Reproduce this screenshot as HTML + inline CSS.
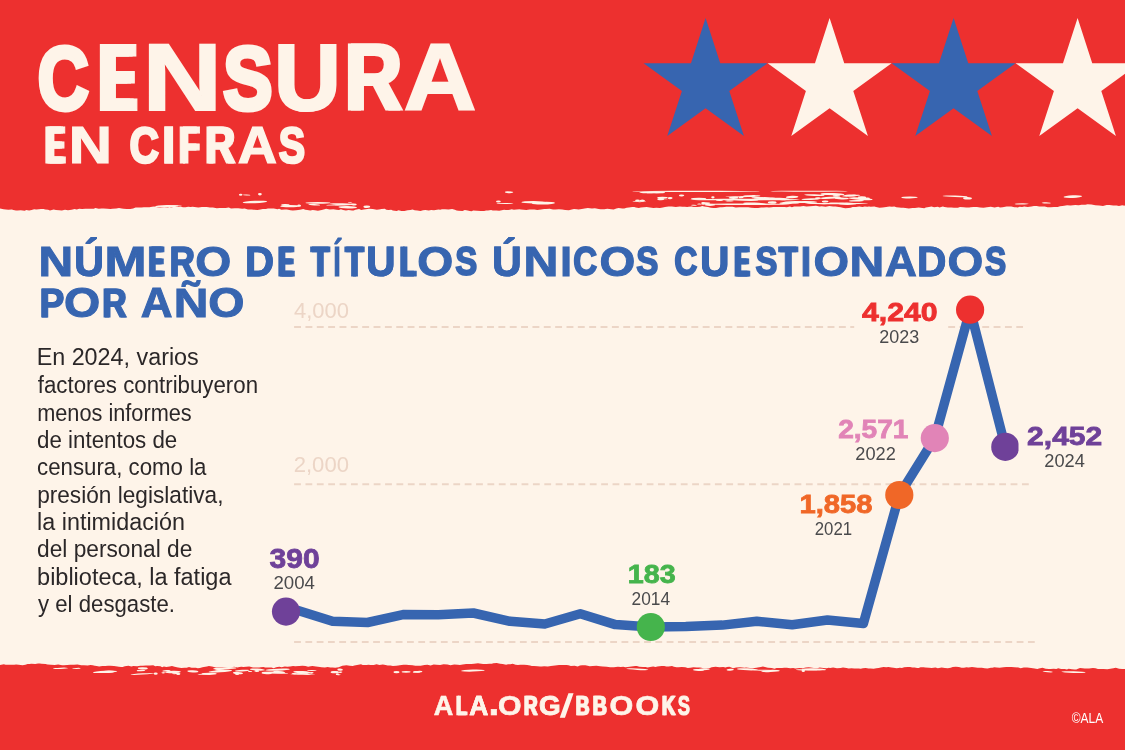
<!DOCTYPE html>
<html lang="es"><head><meta charset="utf-8"><title>Censura en cifras</title>
<style>html,body{margin:0;padding:0;background:#FEF4E9}body{width:1125px;height:750px;overflow:hidden}svg{display:block;will-change:transform}text{font-family:"Liberation Sans",sans-serif}</style></head><body>
<svg width="1125" height="750" viewBox="0 0 1125 750">
<rect width="1125" height="750" fill="#FEF4E9"/>
<path fill="#ED302F" d="M0 0H1125V204.6L1125.0 204.6L1124.8 205.7L1122.1 205.3L1119.0 205.9L1116.6 205.5L1113.3 205.4L1109.4 205.1L1106.6 205.1L1103.0 206.0L1099.2 205.6L1095.3 205.3L1091.5 204.5L1087.6 204.3L1085.3 204.7L1081.5 204.8L1078.7 205.2L1075.3 205.1L1072.9 205.2L1070.6 205.5L1067.1 205.2L1064.1 205.8L1062.4 206.1L1060.0 206.2L1057.7 207.1L1054.0 207.0L1050.8 207.3L1047.5 207.2L1044.8 206.6L1043.1 206.5L1039.2 206.5L1036.8 206.0L1033.9 206.1L1031.4 206.5L1027.7 206.9L1024.3 206.4L1022.0 207.0L1019.5 206.7L1017.8 207.5L1016.1 207.2L1014.5 207.2L1011.2 206.6L1009.4 206.6L1006.6 206.5L1002.6 207.2L1000.0 207.4L998.2 206.8L994.6 207.5L990.8 206.8L986.9 207.3L983.5 207.7L980.1 207.4L977.0 206.9L973.3 206.9L970.7 207.3L969.1 207.5L966.2 207.5L963.8 207.3L960.0 207.1L957.9 207.8L953.9 207.7L951.5 207.6L947.8 207.4L944.5 207.0L942.9 206.6L941.1 207.1L939.5 207.4L937.9 206.7L934.1 207.3L931.4 206.5L929.0 206.9L925.8 207.5L924.3 208.3L922.4 207.9L918.7 207.6L914.9 207.9L912.5 207.9L908.8 208.5L907.2 208.3L903.4 207.7L901.1 207.7L899.1 207.4L896.4 207.2L894.3 206.5L891.9 206.7L889.4 206.4L886.2 206.9L882.6 207.4L879.5 207.8L876.0 207.0L874.4 206.5L870.7 206.8L869.0 206.4L867.3 206.7L864.8 206.5L862.5 207.1L859.2 206.6L855.9 206.9L852.6 207.0L850.7 207.7L848.6 208.0L845.3 208.2L842.6 207.8L840.7 207.2L838.8 207.1L835.4 206.6L833.1 206.6L829.3 206.1L825.7 206.8L821.8 206.3L819.5 206.6L816.0 205.8L813.1 206.1L810.1 206.3L806.5 206.6L803.4 206.1L800.1 206.5L797.6 206.5L794.1 206.4L791.9 207.2L789.9 206.6L786.9 207.2L784.4 207.1L780.5 206.9L778.9 207.0L776.5 206.9L773.2 207.1L771.6 207.3L768.9 207.6L767.0 207.3L763.3 207.5L761.1 207.4L758.1 208.0L754.7 207.9L751.2 207.7L748.2 207.3L745.6 207.3L742.5 207.2L739.2 207.2L735.8 207.4L732.5 206.8L728.8 206.7L726.2 206.8L724.7 207.0L721.9 207.3L720.0 207.3L716.0 207.9L713.5 207.9L710.8 207.7L708.0 207.1L704.3 206.5L702.2 206.1L700.1 206.8L697.0 207.0L693.8 207.1L691.3 206.6L688.7 206.8L687.2 206.9L684.8 206.8L682.5 206.7L679.8 206.5L675.8 207.0L671.9 206.6L668.6 206.4L665.0 206.9L662.8 207.6L659.9 208.0L656.3 207.8L653.4 208.1L649.9 207.5L646.7 207.0L643.7 207.2L640.8 207.6L638.8 208.0L635.8 207.4L634.3 207.0L632.3 206.9L628.9 207.5L626.7 207.8L624.2 208.5L622.4 208.5L618.6 207.9L616.3 208.5L613.7 209.4L611.2 209.3L607.4 208.8L604.2 209.2L600.6 209.2L598.7 208.9L594.9 208.2L591.9 208.5L587.9 207.9L584.6 208.5L581.8 209.0L578.5 209.4L576.9 209.2L574.0 208.9L571.8 209.4L568.9 210.3L565.2 209.9L562.2 209.6L558.9 209.3L555.3 209.6L553.0 209.4L549.6 208.7L545.9 209.1L544.2 208.9L541.1 209.6L537.3 210.0L534.4 209.4L532.4 209.5L529.6 209.5L526.3 209.9L523.7 209.7L520.9 209.4L519.4 209.3L516.4 209.6L513.9 209.8L511.7 209.2L509.9 209.7L508.2 210.0L505.7 210.0L504.1 209.8L501.8 210.3L499.2 210.7L496.3 210.4L492.8 210.6L491.1 210.0L488.0 210.6L486.1 210.5L484.1 210.9L480.8 211.0L477.0 210.8L473.2 210.5L471.6 211.2L469.8 210.9L467.6 210.6L464.8 210.1L462.5 210.9L458.5 210.7L456.6 210.4L454.9 209.8L452.1 209.1L448.5 209.4L445.0 209.2L441.9 209.2L440.2 209.7L438.5 209.5L437.0 209.8L434.0 210.2L431.1 210.1L428.9 210.5L425.3 210.0L423.0 210.3L420.5 210.9L417.4 210.4L414.7 210.2L412.5 209.4L410.4 209.9L407.6 210.3L404.4 210.9L401.6 210.9L398.5 210.3L396.7 210.9L392.8 210.4L391.2 209.7L388.5 210.0L386.3 209.8L384.8 208.7L381.6 209.1L378.9 209.5L376.7 209.8L372.8 209.0L369.0 208.8L365.7 209.2L363.7 209.4L361.2 210.0L359.1 209.1L355.4 209.7L353.6 210.4L352.1 210.4L348.6 210.0L346.0 210.5L343.1 210.0L340.9 209.3L338.9 209.9L336.4 209.8L333.4 209.3L329.8 209.5L326.1 208.8L324.5 209.3L321.7 209.9L317.9 210.8L314.9 210.3L312.7 209.9L310.3 210.4L307.3 210.1L305.3 209.8L303.3 209.0L300.0 209.7L296.1 210.2L292.8 210.5L290.5 210.2L286.9 209.6L284.8 209.4L281.4 209.7L279.1 208.8L277.5 209.2L273.8 208.4L271.1 208.4L267.9 208.4L265.9 208.9L262.8 208.9L260.4 209.4L257.6 209.9L253.7 209.8L251.8 209.4L247.9 209.5L246.3 209.1L244.7 208.4L242.2 208.7L238.3 208.2L234.7 208.3L231.0 208.5L228.8 207.5L225.7 207.9L222.8 208.0L219.6 207.9L216.8 208.2L212.9 207.4L210.0 207.6L206.8 206.9L203.5 207.0L201.9 207.1L198.4 207.6L196.4 207.2L192.6 206.8L190.6 207.0L188.2 206.8L185.5 207.2L182.9 207.3L180.7 206.6L177.9 206.8L176.2 207.0L173.1 207.0L171.0 207.5L169.5 207.0L167.8 207.7L164.2 207.3L160.6 207.7L157.1 207.2L154.2 206.4L152.1 206.7L149.4 207.3L146.4 207.3L144.0 207.2L141.3 207.5L139.3 207.6L135.6 207.6L133.1 208.6L130.3 209.0L126.9 209.0L123.4 208.8L121.8 208.6L119.0 208.1L116.3 208.6L112.4 208.8L110.4 209.1L107.5 208.8L103.6 208.5L101.6 208.6L98.7 208.8L95.4 208.0L93.8 208.7L91.3 208.8L87.9 208.8L85.3 208.8L82.1 209.1L79.2 208.8L76.7 209.4L74.6 208.9L71.6 209.8L68.0 210.2L65.0 209.8L61.9 210.5L59.3 210.3L56.0 209.9L53.7 209.6L50.0 210.5L48.1 209.8L45.2 209.6L43.6 208.9L41.0 209.0L38.9 209.2L36.2 209.4L34.1 209.3L31.6 210.0L29.1 210.6L26.3 209.9L24.7 210.7L20.8 210.2L17.5 210.5L16.0 210.6L13.4 210.1L11.9 209.4L8.4 209.8L5.8 209.4L3.6 209.3L0.0 208.5Z"/>
<path fill="#ED302F" d="M0 750V665.0L0.0 665.0L3.9 664.2L5.6 664.7L8.9 664.8L11.2 664.8L14.2 664.7L16.1 664.5L18.6 664.7L22.6 665.2L25.4 664.8L27.6 663.9L29.2 664.0L31.5 663.8L35.2 663.9L38.1 663.6L39.7 663.5L41.5 663.7L45.5 664.0L47.5 664.5L50.9 664.7L54.7 664.9L58.2 664.6L62.1 665.2L64.0 665.3L67.3 665.0L70.2 664.8L74.0 664.8L77.5 664.6L81.3 665.2L83.9 665.2L87.7 665.4L90.4 664.9L92.7 665.2L94.7 665.7L96.8 666.1L99.1 666.4L102.4 666.1L105.2 666.1L108.1 665.7L110.1 665.7L114.0 665.9L115.7 666.3L119.0 666.8L121.0 666.9L122.6 666.9L124.8 666.3L128.5 665.8L131.3 666.5L133.4 666.1L137.1 666.2L140.4 665.8L142.8 665.7L146.0 665.5L149.9 665.4L153.2 665.2L155.3 666.2L157.2 666.0L160.5 666.2L162.1 667.2L163.9 666.5L166.3 666.9L169.7 666.4L172.0 666.0L174.6 666.8L178.0 667.5L181.4 667.9L184.6 667.7L186.7 667.8L189.0 667.1L191.6 667.7L193.4 667.7L195.9 667.7L197.8 668.2L199.9 668.1L202.5 667.3L205.3 666.8L207.0 666.4L208.9 666.1L212.0 666.6L215.9 667.5L219.9 667.2L222.5 667.0L225.5 667.3L229.0 667.7L231.2 667.5L234.0 666.8L235.6 666.9L237.3 667.4L239.4 666.9L241.4 666.7L243.4 666.9L246.1 666.8L249.2 666.6L253.0 667.5L256.3 667.4L259.1 667.5L260.7 667.3L263.5 666.9L265.2 667.5L267.7 667.4L271.5 667.6L273.7 668.2L276.1 667.2L279.3 666.7L281.6 667.3L284.8 666.6L287.4 666.7L290.1 666.4L293.1 666.1L295.3 666.2L299.1 665.9L302.5 665.8L305.5 666.1L308.1 666.7L310.6 666.3L312.4 666.0L316.0 666.5L319.9 666.9L321.5 667.2L324.9 667.4L327.7 667.1L330.3 667.5L332.5 667.4L335.2 667.8L338.7 667.3L342.3 665.8L344.4 665.4L346.5 665.2L349.7 665.7L352.7 665.9L354.4 665.4L358.4 664.8L361.0 664.2L362.7 665.0L366.6 665.1L368.5 664.8L370.5 665.1L373.8 664.9L376.6 664.3L379.4 665.1L382.8 664.5L385.6 664.9L387.7 665.4L390.4 665.5L392.9 666.0L396.4 665.7L398.2 665.4L399.8 665.3L403.5 664.7L406.3 664.7L408.8 665.0L412.6 665.2L415.3 665.7L417.6 665.7L420.8 665.8L424.4 665.1L427.5 664.8L430.6 665.4L433.7 664.5L436.4 664.8L440.1 665.0L443.6 664.2L447.5 664.6L450.5 665.2L454.2 664.4L457.8 664.8L459.8 665.0L462.7 664.4L466.2 663.9L469.3 663.9L471.4 664.1L474.1 663.7L478.0 663.3L479.5 663.5L483.1 663.9L486.5 663.9L489.7 663.7L491.8 663.8L493.4 663.3L496.8 663.0L500.1 663.7L502.7 664.1L506.1 664.8L508.0 664.2L510.4 664.3L512.7 663.7L515.6 664.7L518.0 664.9L520.4 664.8L524.1 664.7L527.2 664.9L530.1 665.6L531.8 666.0L534.0 666.1L537.5 666.2L540.0 666.6L541.7 666.5L544.2 666.3L547.8 666.5L550.9 666.0L553.0 665.8L555.1 665.5L559.0 665.0L562.5 665.0L564.9 665.0L566.6 665.1L568.5 665.2L570.8 665.9L574.6 665.8L577.7 666.4L580.0 665.6L582.1 665.2L585.3 665.2L587.7 665.8L589.7 666.2L592.8 666.0L596.4 665.7L600.1 666.3L602.8 666.5L606.7 666.8L610.1 667.2L613.9 667.3L617.9 666.8L620.9 667.0L623.3 666.7L625.3 667.3L627.7 667.0L631.4 666.5L635.3 666.0L636.9 666.0L639.3 666.8L643.0 667.1L645.6 667.1L647.7 667.4L650.1 666.9L653.2 666.4L655.5 667.1L657.3 666.6L659.3 666.3L661.8 666.1L664.2 666.0L666.3 666.5L668.6 666.4L672.0 666.0L673.9 666.8L676.5 667.3L678.3 667.3L681.9 667.0L685.3 667.2L687.8 667.9L690.3 667.7L693.4 667.3L696.9 667.5L699.9 667.5L703.9 668.2L707.5 667.9L710.0 667.9L711.6 667.2L715.6 666.8L719.5 667.3L723.2 666.9L725.5 667.6L727.0 667.1L729.4 666.8L731.3 667.4L733.0 668.2L736.1 667.5L739.9 667.3L742.6 667.6L744.4 667.7L746.1 667.4L749.9 668.0L752.7 668.3L756.4 667.7L759.1 667.3L760.9 666.9L762.9 666.6L765.0 666.9L768.0 667.7L771.8 668.1L774.5 668.7L776.5 667.9L780.0 668.1L782.0 667.9L784.3 667.8L786.8 667.7L790.3 668.3L793.2 668.1L795.4 668.5L799.4 668.0L802.7 668.2L805.8 667.5L808.7 667.2L810.7 667.6L813.8 667.9L817.2 668.2L819.8 667.5L823.3 668.1L826.9 668.2L828.5 667.7L830.2 668.0L833.1 667.5L837.0 668.3L840.7 668.1L843.0 667.6L846.5 668.0L848.7 668.5L851.6 668.2L854.2 668.4L856.8 668.4L858.6 668.5L860.8 668.8L862.8 668.3L865.7 668.0L868.5 668.5L870.5 668.6L873.7 668.7L876.3 668.3L878.7 668.1L880.8 667.5L883.5 667.1L886.2 667.3L888.5 666.9L891.5 667.6L893.5 667.7L896.7 668.2L899.9 667.7L901.9 668.1L904.2 667.3L907.8 666.9L910.1 666.9L912.3 667.4L914.6 667.4L917.2 667.9L918.7 667.9L920.5 667.3L923.6 667.2L925.2 667.5L929.0 667.7L931.7 668.1L935.5 667.5L937.8 668.2L941.6 667.6L944.9 668.1L947.8 668.3L950.7 667.7L952.7 667.1L955.8 666.8L958.9 666.9L961.5 667.8L964.0 667.7L966.4 667.3L968.5 667.5L972.0 667.0L975.9 667.5L977.5 667.8L980.0 667.8L981.8 667.8L984.6 668.2L987.5 668.4L990.9 667.8L992.4 667.8L994.3 667.3L996.6 667.5L999.6 667.8L1003.5 667.3L1006.3 666.9L1009.5 667.1L1011.4 667.1L1014.5 667.3L1018.4 667.4L1020.7 668.2L1023.8 667.6L1027.2 667.6L1031.1 667.9L1034.6 668.6L1037.4 669.1L1038.9 668.6L1042.5 667.8L1045.7 668.7L1049.0 669.1L1050.7 668.9L1053.7 668.7L1056.3 669.0L1058.2 668.2L1061.1 668.9L1064.7 669.0L1067.0 669.4L1068.6 668.8L1072.0 669.3L1074.5 669.6L1076.3 669.5L1078.0 668.8L1080.0 668.1L1082.5 668.2L1084.7 668.6L1086.3 668.6L1089.1 668.5L1092.9 668.1L1095.5 668.2L1097.9 669.1L1100.8 669.0L1103.4 668.9L1107.3 669.3L1110.4 668.7L1113.4 668.3L1115.8 667.8L1119.1 668.8L1122.1 669.0L1124.3 668.9L1125.0 669.0V750Z"/>
<g fill="#FEF4E9">
<ellipse cx="285.4" cy="204.9" rx="4.2" ry="0.9" transform="rotate(1.0 285.4 204.9)"/>
<ellipse cx="350.1" cy="202.4" rx="2.3" ry="0.4" transform="rotate(-2.1 350.1 202.4)"/>
<ellipse cx="342.7" cy="204.1" rx="12.9" ry="0.8" transform="rotate(1.1 342.7 204.1)"/>
<ellipse cx="353.6" cy="204.4" rx="3.2" ry="1.0" transform="rotate(1.9 353.6 204.4)"/>
<ellipse cx="335.4" cy="204.9" rx="9.2" ry="0.5" transform="rotate(-1.6 335.4 204.9)"/>
<ellipse cx="299.2" cy="205.6" rx="1.9" ry="1.2" transform="rotate(3.0 299.2 205.6)"/>
<ellipse cx="289.9" cy="206.1" rx="9.7" ry="1.2" transform="rotate(-0.4 289.9 206.1)"/>
<ellipse cx="254.9" cy="202.0" rx="12.3" ry="1.2" transform="rotate(-2.3 254.9 202.0)"/>
<ellipse cx="318.0" cy="202.9" rx="12.6" ry="0.8" transform="rotate(0.1 318.0 202.9)"/>
<ellipse cx="314.2" cy="204.8" rx="5.9" ry="0.7" transform="rotate(3.2 314.2 204.8)"/>
<ellipse cx="347.7" cy="207.2" rx="9.3" ry="1.2" transform="rotate(1.4 347.7 207.2)"/>
<ellipse cx="366.8" cy="206.7" rx="3.4" ry="1.2" transform="rotate(0.6 366.8 206.7)"/>
<ellipse cx="344.3" cy="204.8" rx="9.7" ry="0.6" transform="rotate(-1.7 344.3 204.8)"/>
<ellipse cx="259.9" cy="194.2" rx="1.9" ry="1.2" transform="rotate(2.4 259.9 194.2)"/>
<ellipse cx="246.6" cy="195.0" rx="3.8" ry="0.5" transform="rotate(3.0 246.6 195.0)"/>
<ellipse cx="240.7" cy="194.7" rx="1.8" ry="1.0" transform="rotate(-1.4 240.7 194.7)"/>
<ellipse cx="543.4" cy="203.2" rx="11.6" ry="1.3" transform="rotate(-1.5 543.4 203.2)"/>
<ellipse cx="498.4" cy="201.5" rx="2.4" ry="0.9" transform="rotate(-0.7 498.4 201.5)"/>
<ellipse cx="505.0" cy="203.5" rx="8.5" ry="0.5" transform="rotate(-1.5 505.0 203.5)"/>
<ellipse cx="533.8" cy="202.2" rx="12.5" ry="1.2" transform="rotate(0.2 533.8 202.2)"/>
<ellipse cx="508.5" cy="192.3" rx="3.6" ry="0.9" transform="rotate(3.5 508.5 192.3)"/>
<ellipse cx="510.1" cy="192.3" rx="3.2" ry="0.8" transform="rotate(-1.6 510.1 192.3)"/>
<ellipse cx="652.1" cy="192.4" rx="12.7" ry="0.9" transform="rotate(-0.7 652.1 192.4)"/>
<ellipse cx="654.7" cy="192.7" rx="8.2" ry="0.4" transform="rotate(-3.5 654.7 192.7)"/>
<ellipse cx="656.5" cy="192.4" rx="8.7" ry="0.8" transform="rotate(1.7 656.5 192.4)"/>
<ellipse cx="636.9" cy="201.6" rx="4.4" ry="0.4" transform="rotate(3.7 636.9 201.6)"/>
<ellipse cx="642.2" cy="200.6" rx="2.5" ry="0.8" transform="rotate(-1.1 642.2 200.6)"/>
<ellipse cx="642.2" cy="200.5" rx="2.7" ry="0.7" transform="rotate(-1.0 642.2 200.5)"/>
<ellipse cx="641.6" cy="201.7" rx="4.5" ry="0.4" transform="rotate(-1.5 641.6 201.7)"/>
<ellipse cx="637.5" cy="200.5" rx="2.4" ry="1.1" transform="rotate(-0.5 637.5 200.5)"/>
<ellipse cx="663.1" cy="198.8" rx="4.6" ry="0.5" transform="rotate(2.7 663.1 198.8)"/>
<ellipse cx="660.7" cy="199.1" rx="3.5" ry="1.2" transform="rotate(1.2 660.7 199.1)"/>
<ellipse cx="662.5" cy="197.6" rx="5.5" ry="0.8" transform="rotate(0.2 662.5 197.6)"/>
<ellipse cx="670.2" cy="198.2" rx="2.4" ry="1.1" transform="rotate(-1.8 670.2 198.2)"/>
<ellipse cx="830.2" cy="197.8" rx="10.8" ry="1.0" transform="rotate(-3.0 830.2 197.8)"/>
<ellipse cx="733.6" cy="197.8" rx="4.9" ry="1.1" transform="rotate(-0.7 733.6 197.8)"/>
<ellipse cx="854.0" cy="195.6" rx="6.3" ry="0.8" transform="rotate(-4.0 854.0 195.6)"/>
<ellipse cx="860.4" cy="198.8" rx="12.3" ry="1.2" transform="rotate(3.6 860.4 198.8)"/>
<ellipse cx="818.9" cy="203.5" rx="12.2" ry="0.6" transform="rotate(1.3 818.9 203.5)"/>
<ellipse cx="747.6" cy="196.3" rx="7.5" ry="0.7" transform="rotate(-3.5 747.6 196.3)"/>
<ellipse cx="832.5" cy="194.2" rx="8.3" ry="0.7" transform="rotate(3.2 832.5 194.2)"/>
<ellipse cx="847.1" cy="203.7" rx="9.5" ry="1.2" transform="rotate(0.6 847.1 203.7)"/>
<ellipse cx="712.9" cy="197.3" rx="1.7" ry="1.1" transform="rotate(1.3 712.9 197.3)"/>
<ellipse cx="856.4" cy="200.8" rx="7.5" ry="0.8" transform="rotate(-1.3 856.4 200.8)"/>
<ellipse cx="772.2" cy="202.5" rx="4.4" ry="1.2" transform="rotate(-1.2 772.2 202.5)"/>
<ellipse cx="836.5" cy="195.8" rx="3.8" ry="0.9" transform="rotate(2.3 836.5 195.8)"/>
<ellipse cx="832.4" cy="194.2" rx="12.1" ry="1.1" transform="rotate(1.0 832.4 194.2)"/>
<ellipse cx="736.7" cy="196.7" rx="11.4" ry="0.4" transform="rotate(0.2 736.7 196.7)"/>
<ellipse cx="827.5" cy="193.8" rx="6.4" ry="0.8" transform="rotate(-3.6 827.5 193.8)"/>
<ellipse cx="694.0" cy="205.2" rx="3.0" ry="0.5" transform="rotate(2.8 694.0 205.2)"/>
<ellipse cx="741.1" cy="197.4" rx="2.5" ry="0.9" transform="rotate(-1.2 741.1 197.4)"/>
<ellipse cx="751.6" cy="196.1" rx="8.9" ry="0.9" transform="rotate(-1.4 751.6 196.1)"/>
<ellipse cx="817.8" cy="198.2" rx="2.9" ry="0.9" transform="rotate(-3.4 817.8 198.2)"/>
<ellipse cx="796.3" cy="202.8" rx="3.6" ry="0.7" transform="rotate(-1.0 796.3 202.8)"/>
<ellipse cx="764.5" cy="198.1" rx="10.7" ry="1.0" transform="rotate(-0.0 764.5 198.1)"/>
<ellipse cx="811.0" cy="199.1" rx="9.6" ry="0.8" transform="rotate(-2.0 811.0 199.1)"/>
<ellipse cx="698.7" cy="198.7" rx="7.7" ry="1.0" transform="rotate(-0.6 698.7 198.7)"/>
<ellipse cx="754.6" cy="203.7" rx="11.6" ry="1.2" transform="rotate(2.3 754.6 203.7)"/>
<ellipse cx="705.7" cy="203.1" rx="4.5" ry="0.8" transform="rotate(1.3 705.7 203.1)"/>
<ellipse cx="805.6" cy="202.0" rx="11.7" ry="1.1" transform="rotate(0.5 805.6 202.0)"/>
<ellipse cx="681.6" cy="195.5" rx="2.7" ry="0.9" transform="rotate(2.2 681.6 195.5)"/>
<ellipse cx="699.2" cy="204.1" rx="2.0" ry="0.5" transform="rotate(-2.6 699.2 204.1)"/>
<ellipse cx="703.2" cy="203.2" rx="1.8" ry="1.2" transform="rotate(1.4 703.2 203.2)"/>
<ellipse cx="790.3" cy="202.6" rx="11.1" ry="1.3" transform="rotate(-3.7 790.3 202.6)"/>
<ellipse cx="814.4" cy="195.1" rx="10.3" ry="0.9" transform="rotate(2.0 814.4 195.1)"/>
<ellipse cx="746.2" cy="200.3" rx="12.2" ry="0.5" transform="rotate(2.6 746.2 200.3)"/>
<ellipse cx="729.4" cy="200.9" rx="4.3" ry="0.6" transform="rotate(2.0 729.4 200.9)"/>
<ellipse cx="757.4" cy="197.8" rx="6.0" ry="0.7" transform="rotate(-0.7 757.4 197.8)"/>
<ellipse cx="867.4" cy="198.5" rx="2.5" ry="0.9" transform="rotate(2.0 867.4 198.5)"/>
<ellipse cx="825.2" cy="201.4" rx="3.3" ry="1.0" transform="rotate(0.1 825.2 201.4)"/>
<ellipse cx="849.2" cy="195.6" rx="7.1" ry="1.0" transform="rotate(-3.2 849.2 195.6)"/>
<ellipse cx="779.6" cy="198.9" rx="10.1" ry="1.2" transform="rotate(1.8 779.6 198.9)"/>
<ellipse cx="719.4" cy="200.5" rx="3.6" ry="0.6" transform="rotate(-1.5 719.4 200.5)"/>
<ellipse cx="862.0" cy="197.3" rx="4.2" ry="1.0" transform="rotate(1.6 862.0 197.3)"/>
<ellipse cx="792.1" cy="197.0" rx="6.3" ry="1.2" transform="rotate(-2.3 792.1 197.0)"/>
<ellipse cx="753.8" cy="195.8" rx="1.8" ry="0.8" transform="rotate(-1.1 753.8 195.8)"/>
<ellipse cx="710.0" cy="204.8" rx="5.2" ry="1.1" transform="rotate(-0.2 710.0 204.8)"/>
<ellipse cx="836.8" cy="203.2" rx="8.4" ry="0.8" transform="rotate(0.5 836.8 203.2)"/>
<ellipse cx="841.7" cy="198.4" rx="7.0" ry="1.0" transform="rotate(1.9 841.7 198.4)"/>
<ellipse cx="955.0" cy="196.3" rx="12.5" ry="0.8" transform="rotate(1.7 955.0 196.3)"/>
<ellipse cx="1072.8" cy="196.6" rx="9.3" ry="1.3" transform="rotate(-2.5 1072.8 196.6)"/>
<ellipse cx="1046.2" cy="202.9" rx="4.5" ry="0.6" transform="rotate(3.2 1046.2 202.9)"/>
<ellipse cx="967.5" cy="198.3" rx="4.4" ry="1.2" transform="rotate(1.8 967.5 198.3)"/>
<ellipse cx="1073.5" cy="196.7" rx="2.5" ry="0.5" transform="rotate(-1.1 1073.5 196.7)"/>
<ellipse cx="909.5" cy="197.4" rx="8.2" ry="1.0" transform="rotate(-0.5 909.5 197.4)"/>
<ellipse cx="1021.7" cy="203.9" rx="7.1" ry="0.6" transform="rotate(-0.9 1021.7 203.9)"/>
<ellipse cx="174.1" cy="205.8" rx="7.8" ry="0.5" transform="rotate(-3.1 174.1 205.8)"/>
<ellipse cx="166.7" cy="206.2" rx="11.7" ry="1.2" transform="rotate(-1.0 166.7 206.2)"/>
<ellipse cx="76.5" cy="668.4" rx="4.2" ry="0.5" transform="rotate(-3.5 76.5 668.4)"/>
<ellipse cx="108.4" cy="671.7" rx="6.1" ry="1.2" transform="rotate(-2.2 108.4 671.7)"/>
<ellipse cx="60.6" cy="668.3" rx="7.7" ry="0.6" transform="rotate(-2.3 60.6 668.3)"/>
<ellipse cx="105.1" cy="671.9" rx="12.2" ry="1.1" transform="rotate(-2.5 105.1 671.9)"/>
<ellipse cx="266.7" cy="673.2" rx="5.1" ry="1.0" transform="rotate(3.0 266.7 673.2)"/>
<ellipse cx="256.8" cy="671.0" rx="2.5" ry="0.9" transform="rotate(-2.6 256.8 671.0)"/>
<ellipse cx="301.5" cy="673.6" rx="6.9" ry="0.5" transform="rotate(0.4 301.5 673.6)"/>
<ellipse cx="238.0" cy="673.1" rx="5.0" ry="1.2" transform="rotate(2.8 238.0 673.1)"/>
<ellipse cx="242.3" cy="670.6" rx="7.3" ry="0.8" transform="rotate(-2.7 242.3 670.6)"/>
<ellipse cx="142.8" cy="668.4" rx="5.0" ry="1.1" transform="rotate(1.0 142.8 668.4)"/>
<ellipse cx="219.8" cy="670.0" rx="4.7" ry="0.9" transform="rotate(4.0 219.8 670.0)"/>
<ellipse cx="170.7" cy="671.9" rx="3.7" ry="0.8" transform="rotate(-1.8 170.7 671.9)"/>
<ellipse cx="192.9" cy="671.3" rx="5.6" ry="1.1" transform="rotate(3.2 192.9 671.3)"/>
<ellipse cx="174.9" cy="672.9" rx="2.7" ry="0.5" transform="rotate(0.9 174.9 672.9)"/>
<ellipse cx="166.5" cy="670.7" rx="4.2" ry="0.7" transform="rotate(-3.7 166.5 670.7)"/>
<ellipse cx="302.7" cy="672.3" rx="9.5" ry="1.2" transform="rotate(3.7 302.7 672.3)"/>
<ellipse cx="311.9" cy="672.8" rx="1.7" ry="0.7" transform="rotate(-0.7 311.9 672.8)"/>
<ellipse cx="277.6" cy="669.7" rx="12.3" ry="1.0" transform="rotate(-2.5 277.6 669.7)"/>
<ellipse cx="204.1" cy="674.2" rx="6.6" ry="0.5" transform="rotate(-1.3 204.1 674.2)"/>
<ellipse cx="163.3" cy="673.0" rx="1.6" ry="0.4" transform="rotate(-1.1 163.3 673.0)"/>
<ellipse cx="311.9" cy="670.5" rx="4.8" ry="0.5" transform="rotate(-2.3 311.9 670.5)"/>
<ellipse cx="163.5" cy="672.3" rx="2.2" ry="0.4" transform="rotate(-2.8 163.5 672.3)"/>
<ellipse cx="178.3" cy="674.1" rx="2.0" ry="0.8" transform="rotate(-3.0 178.3 674.1)"/>
<ellipse cx="209.1" cy="673.8" rx="7.6" ry="1.1" transform="rotate(-0.2 209.1 673.8)"/>
<ellipse cx="141.0" cy="670.5" rx="4.3" ry="0.8" transform="rotate(-2.0 141.0 670.5)"/>
<ellipse cx="224.8" cy="668.3" rx="11.7" ry="1.1" transform="rotate(-2.0 224.8 668.3)"/>
<ellipse cx="176.3" cy="673.5" rx="4.3" ry="0.6" transform="rotate(-2.9 176.3 673.5)"/>
<ellipse cx="237.1" cy="673.7" rx="2.1" ry="1.2" transform="rotate(-0.8 237.1 673.7)"/>
<ellipse cx="273.4" cy="672.5" rx="11.9" ry="1.0" transform="rotate(-0.0 273.4 672.5)"/>
<ellipse cx="294.1" cy="673.7" rx="2.6" ry="0.6" transform="rotate(3.4 294.1 673.7)"/>
<ellipse cx="278.7" cy="671.9" rx="5.4" ry="1.0" transform="rotate(2.5 278.7 671.9)"/>
<ellipse cx="257.5" cy="669.6" rx="7.6" ry="1.0" transform="rotate(3.4 257.5 669.6)"/>
<ellipse cx="302.7" cy="674.3" rx="12.5" ry="0.5" transform="rotate(1.3 302.7 674.3)"/>
<ellipse cx="155.7" cy="673.6" rx="2.0" ry="1.2" transform="rotate(1.3 155.7 673.6)"/>
<ellipse cx="250.1" cy="671.5" rx="2.2" ry="0.6" transform="rotate(2.0 250.1 671.5)"/>
<ellipse cx="142.7" cy="673.9" rx="12.2" ry="0.6" transform="rotate(-3.9 142.7 673.9)"/>
<ellipse cx="276.7" cy="673.0" rx="11.6" ry="0.5" transform="rotate(3.0 276.7 673.0)"/>
<ellipse cx="173.0" cy="672.0" rx="7.8" ry="1.2" transform="rotate(-1.4 173.0 672.0)"/>
<ellipse cx="220.3" cy="671.2" rx="11.8" ry="1.1" transform="rotate(-3.8 220.3 671.2)"/>
<ellipse cx="337.4" cy="674.2" rx="1.6" ry="0.9" transform="rotate(0.9 337.4 674.2)"/>
<ellipse cx="340.5" cy="672.2" rx="1.9" ry="0.7" transform="rotate(-3.9 340.5 672.2)"/>
<ellipse cx="334.6" cy="672.2" rx="4.0" ry="1.1" transform="rotate(-1.0 334.6 672.2)"/>
<ellipse cx="335.6" cy="671.9" rx="3.9" ry="0.7" transform="rotate(3.7 335.6 671.9)"/>
<ellipse cx="338.9" cy="674.7" rx="1.8" ry="0.5" transform="rotate(0.1 338.9 674.7)"/>
<ellipse cx="340.1" cy="669.6" rx="2.8" ry="1.2" transform="rotate(3.1 340.1 669.6)"/>
<ellipse cx="416.7" cy="671.8" rx="3.4" ry="0.7" transform="rotate(2.4 416.7 671.8)"/>
<ellipse cx="396.5" cy="672.1" rx="3.1" ry="1.2" transform="rotate(-0.0 396.5 672.1)"/>
<ellipse cx="417.6" cy="671.8" rx="4.8" ry="0.9" transform="rotate(-4.0 417.6 671.8)"/>
<ellipse cx="406.1" cy="671.8" rx="4.5" ry="0.9" transform="rotate(-0.1 406.1 671.8)"/>
<ellipse cx="417.8" cy="671.7" rx="2.2" ry="0.6" transform="rotate(2.1 417.8 671.7)"/>
<ellipse cx="472.9" cy="670.6" rx="11.9" ry="1.0" transform="rotate(-1.5 472.9 670.6)"/>
<ellipse cx="637.3" cy="669.2" rx="11.1" ry="0.8" transform="rotate(2.9 637.3 669.2)"/>
<ellipse cx="747.5" cy="669.3" rx="10.5" ry="1.0" transform="rotate(2.2 747.5 669.3)"/>
<ellipse cx="704.1" cy="669.2" rx="5.7" ry="1.0" transform="rotate(-2.8 704.1 669.2)"/>
<ellipse cx="806.6" cy="669.8" rx="10.8" ry="0.6" transform="rotate(0.6 806.6 669.8)"/>
<ellipse cx="698.5" cy="670.0" rx="5.5" ry="1.0" transform="rotate(3.5 698.5 670.0)"/>
<ellipse cx="730.2" cy="669.7" rx="3.6" ry="1.0" transform="rotate(-3.8 730.2 669.7)"/>
<ellipse cx="803.3" cy="670.8" rx="1.7" ry="1.3" transform="rotate(2.5 803.3 670.8)"/>
<ellipse cx="765.5" cy="670.2" rx="12.5" ry="0.5" transform="rotate(0.6 765.5 670.2)"/>
<ellipse cx="813.8" cy="669.4" rx="12.3" ry="1.1" transform="rotate(1.2 813.8 669.4)"/>
<ellipse cx="770.5" cy="671.0" rx="9.3" ry="1.1" transform="rotate(-1.6 770.5 671.0)"/>
<ellipse cx="1073.5" cy="672.1" rx="12.2" ry="0.8" transform="rotate(1.6 1073.5 672.1)"/>
<ellipse cx="1047.7" cy="671.7" rx="5.1" ry="0.6" transform="rotate(4.0 1047.7 671.7)"/>
<ellipse cx="696.0" cy="191.4" rx="64.0" ry="0.65"/>
<ellipse cx="809.0" cy="191.2" rx="39.0" ry="0.55"/>
<ellipse cx="745.0" cy="199.6" rx="55.0" ry="0.80"/>
<ellipse cx="745.0" cy="204.2" rx="45.0" ry="0.75"/>
<ellipse cx="836.5" cy="203.6" rx="31.5" ry="0.70"/>
</g>
<polygon points="705.60,18.10 720.24,63.15 767.61,63.15 729.29,91.00 743.92,136.05 705.60,108.20 667.28,136.05 681.91,91.00 643.59,63.15 690.96,63.15" fill="#3765B0"/>
<polygon points="829.60,18.10 844.24,63.15 891.61,63.15 853.29,91.00 867.92,136.05 829.60,108.20 791.28,136.05 805.91,91.00 767.59,63.15 814.96,63.15" fill="#FEF4E9"/>
<polygon points="953.60,18.10 968.24,63.15 1015.61,63.15 977.29,91.00 991.92,136.05 953.60,108.20 915.28,136.05 929.91,91.00 891.59,63.15 938.96,63.15" fill="#3765B0"/>
<polygon points="1077.60,18.10 1092.24,63.15 1139.61,63.15 1101.29,91.00 1115.92,136.05 1077.60,108.20 1039.28,136.05 1053.91,91.00 1015.59,63.15 1062.96,63.15" fill="#FEF4E9"/>
<path d="M294.1 326.9H854.2M948.2 326.9H1023" stroke-dasharray="6.9 4.45" stroke="#ECD5C6" stroke-width="2" fill="none"/>
<path d="M294.1 484.3H1028.8" stroke-dasharray="6.8 4.573" stroke="#ECD5C6" stroke-width="2" fill="none"/>
<path d="M294.1 642H1035" stroke-dasharray="6.8 4.49" stroke="#ECD5C6" stroke-width="2" fill="none"/>
<polyline points="297.3,610.2 332.5,621.2 367.5,622.5 403.0,614.6 438.3,614.8 473.3,613.0 510.0,621.3 544.8,624.0 580.3,613.8 615.4,624.6 650.8,627.0 685.8,626.6 722.3,625.1 756.8,621.2 792.2,624.7 827.5,620.0 863.4,623.4 899.3,495.0 934.8,438.1 970.1,309.7 1005.3,446.9" fill="none" stroke="#3765B0" stroke-width="9.5" stroke-linejoin="round" stroke-linecap="butt"/>
<clipPath id="cl"><rect x="980" y="420" width="38.5" height="60"/></clipPath>
<circle cx="286.0" cy="611.6" r="14.1" fill="#6F4199"/>
<circle cx="650.8" cy="627.0" r="14.1" fill="#45B44C"/>
<circle cx="899.3" cy="495.0" r="14.1" fill="#F06727"/>
<circle cx="934.8" cy="438.1" r="14.1" fill="#E184B7"/>
<circle cx="970.1" cy="309.7" r="14.1" fill="#ED302F"/>
<circle cx="1005.3" cy="446.9" r="14.1" fill="#6F4199" clip-path="url(#cl)"/>
<text transform="translate(37.68 108.50) scale(0.7841 1)" font-size="89.86" font-weight="bold" fill="#FEF4E9" stroke="#FEF4E9" stroke-width="5.00" stroke-linejoin="miter" stroke-miterlimit="3">C</text>
<text id="g1" transform="translate(97.01 110.00) scale(0.5463 1)" font-size="94.20" font-weight="bold" fill="#FEF4E9" stroke="#FEF4E9" stroke-width="2.00" stroke-linejoin="miter" stroke-miterlimit="3">E</text>
<use href="#g1" x="3.73"/>
<use href="#g1" x="7.47"/>
<text transform="translate(142.73 110.00) scale(1.1624 1)" font-size="94.20" font-weight="bold" fill="#FEF4E9" stroke="#FEF4E9" stroke-width="2.00" stroke-linejoin="miter" stroke-miterlimit="3">N</text>
<text transform="translate(223.22 108.50) scale(0.8210 1)" font-size="89.86" font-weight="bold" fill="#FEF4E9" stroke="#FEF4E9" stroke-width="5.00" stroke-linejoin="miter" stroke-miterlimit="3">S</text>
<text id="g2" transform="translate(273.79 110.00) scale(0.9743 1)" font-size="94.20" font-weight="bold" fill="#FEF4E9" stroke="#FEF4E9" stroke-width="2.00" stroke-linejoin="miter" stroke-miterlimit="3">U</text>
<use href="#g2" x="1.02"/>
<text id="g3" transform="translate(343.47 110.00) scale(0.8362 1)" font-size="94.20" font-weight="bold" fill="#FEF4E9" stroke="#FEF4E9" stroke-width="2.00" stroke-linejoin="miter" stroke-miterlimit="3">R</text>
<use href="#g3" x="3.10"/>
<text transform="translate(403.69 110.00) scale(1.0662 1)" font-size="94.20" font-weight="bold" fill="#FEF4E9" stroke="#FEF4E9" stroke-width="2.00" stroke-linejoin="miter" stroke-miterlimit="3">A</text>
<text id="g4" transform="translate(44.06 163.30) scale(0.5265 1)" font-size="51.88" font-weight="bold" fill="#FEF4E9" stroke="#FEF4E9" stroke-width="1.20" stroke-linejoin="miter" stroke-miterlimit="3">E</text>
<use href="#g4" x="2.06"/>
<use href="#g4" x="4.13"/>
<text transform="translate(68.81 163.30) scale(1.1532 1)" font-size="51.88" font-weight="bold" fill="#FEF4E9" stroke="#FEF4E9" stroke-width="1.20" stroke-linejoin="miter" stroke-miterlimit="3">N</text>
<text transform="translate(129.47 162.60) scale(0.8175 1)" font-size="49.86" font-weight="bold" fill="#FEF4E9" stroke="#FEF4E9" stroke-width="2.60" stroke-linejoin="miter" stroke-miterlimit="3">C</text>
<text id="g5" transform="translate(161.39 163.30) scale(1.0000 1)" font-size="51.88" font-weight="bold" fill="#FEF4E9" stroke="#FEF4E9" stroke-width="1.20" stroke-linejoin="miter" stroke-miterlimit="3">I</text>
<use href="#g5" x="0.20"/>
<text id="g6" transform="translate(177.98 163.30) scale(0.6157 1)" font-size="51.88" font-weight="bold" fill="#FEF4E9" stroke="#FEF4E9" stroke-width="1.20" stroke-linejoin="miter" stroke-miterlimit="3">F</text>
<use href="#g6" x="3.39"/>
<text id="g7" transform="translate(204.23 163.30) scale(0.7946 1)" font-size="51.88" font-weight="bold" fill="#FEF4E9" stroke="#FEF4E9" stroke-width="1.20" stroke-linejoin="miter" stroke-miterlimit="3">R</text>
<use href="#g7" x="1.90"/>
<text transform="translate(237.71 163.30) scale(1.0487 1)" font-size="51.88" font-weight="bold" fill="#FEF4E9" stroke="#FEF4E9" stroke-width="1.20" stroke-linejoin="miter" stroke-miterlimit="3">A</text>
<text transform="translate(278.81 162.60) scale(0.7925 1)" font-size="49.86" font-weight="bold" fill="#FEF4E9" stroke="#FEF4E9" stroke-width="2.60" stroke-linejoin="miter" stroke-miterlimit="3">S</text>
<text transform="translate(38.52 275.50) scale(1.1460 1)" font-size="41.88" font-weight="bold" fill="#3765B0" stroke="#3765B0" stroke-width="1.00" stroke-linejoin="miter" stroke-miterlimit="3">N</text>
<text id="g8" transform="translate(74.13 275.50) scale(0.9815 1)" font-size="41.88" font-weight="bold" fill="#3765B0" stroke="#3765B0" stroke-width="1.00" stroke-linejoin="miter" stroke-miterlimit="3">Ú</text>
<use href="#g8" x="0.02"/>
<text transform="translate(104.47 275.50) scale(1.2039 1)" font-size="41.88" font-weight="bold" fill="#3765B0" stroke="#3765B0" stroke-width="1.00" stroke-linejoin="miter" stroke-miterlimit="3">M</text>
<text id="g9" transform="translate(147.68 275.50) scale(0.5241 1)" font-size="41.88" font-weight="bold" fill="#3765B0" stroke="#3765B0" stroke-width="1.00" stroke-linejoin="miter" stroke-miterlimit="3">E</text>
<use href="#g9" x="1.54"/>
<use href="#g9" x="3.09"/>
<text id="g10" transform="translate(169.32 275.50) scale(0.8283 1)" font-size="41.88" font-weight="bold" fill="#3765B0" stroke="#3765B0" stroke-width="1.00" stroke-linejoin="miter" stroke-miterlimit="3">R</text>
<use href="#g10" x="1.05"/>
<text transform="translate(195.35 275.50) scale(1.1051 1)" font-size="41.88" font-weight="bold" fill="#3765B0" stroke="#3765B0" stroke-width="1.00" stroke-linejoin="miter" stroke-miterlimit="3">O</text>
<text id="g11" transform="translate(245.00 275.50) scale(0.9550 1)" font-size="41.88" font-weight="bold" fill="#3765B0" stroke="#3765B0" stroke-width="1.00" stroke-linejoin="miter" stroke-miterlimit="3">D</text>
<use href="#g11" x="0.20"/>
<text id="g12" transform="translate(277.34 275.50) scale(0.5416 1)" font-size="41.88" font-weight="bold" fill="#3765B0" stroke="#3765B0" stroke-width="1.00" stroke-linejoin="miter" stroke-miterlimit="3">E</text>
<use href="#g12" x="1.49"/>
<use href="#g12" x="2.97"/>
<text id="g13" transform="translate(310.30 275.50) scale(0.7163 1)" font-size="41.88" font-weight="bold" fill="#3765B0" stroke="#3765B0" stroke-width="1.00" stroke-linejoin="miter" stroke-miterlimit="3">T</text>
<use href="#g13" x="1.80"/>
<text transform="translate(333.14 275.50) scale(0.6494 1)" font-size="41.88" font-weight="bold" fill="#3765B0" stroke="#3765B0" stroke-width="1.00" stroke-linejoin="miter" stroke-miterlimit="3">Í</text>
<text id="g14" transform="translate(344.40 275.50) scale(0.7163 1)" font-size="41.88" font-weight="bold" fill="#3765B0" stroke="#3765B0" stroke-width="1.00" stroke-linejoin="miter" stroke-miterlimit="3">T</text>
<use href="#g14" x="1.80"/>
<text id="g15" transform="translate(366.17 275.50) scale(0.9656 1)" font-size="41.88" font-weight="bold" fill="#3765B0" stroke="#3765B0" stroke-width="1.00" stroke-linejoin="miter" stroke-miterlimit="3">U</text>
<use href="#g15" x="0.13"/>
<text id="g16" transform="translate(399.09 275.50) scale(0.6001 1)" font-size="41.88" font-weight="bold" fill="#3765B0" stroke="#3765B0" stroke-width="1.00" stroke-linejoin="miter" stroke-miterlimit="3">L</text>
<use href="#g16" x="2.58"/>
<text transform="translate(417.35 275.50) scale(1.1051 1)" font-size="41.88" font-weight="bold" fill="#3765B0" stroke="#3765B0" stroke-width="1.00" stroke-linejoin="miter" stroke-miterlimit="3">O</text>
<text transform="translate(455.29 275.05) scale(0.8120 1)" font-size="40.58" font-weight="bold" fill="#3765B0" stroke="#3765B0" stroke-width="1.90" stroke-linejoin="miter" stroke-miterlimit="3">S</text>
<text id="g17" transform="translate(492.16 275.50) scale(0.9709 1)" font-size="41.88" font-weight="bold" fill="#3765B0" stroke="#3765B0" stroke-width="1.00" stroke-linejoin="miter" stroke-miterlimit="3">Ú</text>
<use href="#g17" x="0.09"/>
<text transform="translate(523.50 275.50) scale(1.1540 1)" font-size="41.88" font-weight="bold" fill="#3765B0" stroke="#3765B0" stroke-width="1.00" stroke-linejoin="miter" stroke-miterlimit="3">N</text>
<text transform="translate(560.29 275.50) scale(0.9998 1)" font-size="41.88" font-weight="bold" fill="#3765B0" stroke="#3765B0" stroke-width="1.00" stroke-linejoin="miter" stroke-miterlimit="3">I</text>
<text transform="translate(573.13 275.05) scale(0.8140 1)" font-size="40.58" font-weight="bold" fill="#3765B0" stroke="#3765B0" stroke-width="1.90" stroke-linejoin="miter" stroke-miterlimit="3">C</text>
<text transform="translate(599.56 275.50) scale(1.0983 1)" font-size="41.88" font-weight="bold" fill="#3765B0" stroke="#3765B0" stroke-width="1.00" stroke-linejoin="miter" stroke-miterlimit="3">O</text>
<text transform="translate(636.19 275.05) scale(0.8160 1)" font-size="40.58" font-weight="bold" fill="#3765B0" stroke="#3765B0" stroke-width="1.90" stroke-linejoin="miter" stroke-miterlimit="3">S</text>
<text transform="translate(674.27 275.05) scale(0.7878 1)" font-size="40.58" font-weight="bold" fill="#3765B0" stroke="#3765B0" stroke-width="1.90" stroke-linejoin="miter" stroke-miterlimit="3">C</text>
<text id="g18" transform="translate(700.07 275.50) scale(0.9656 1)" font-size="41.88" font-weight="bold" fill="#3765B0" stroke="#3765B0" stroke-width="1.00" stroke-linejoin="miter" stroke-miterlimit="3">U</text>
<use href="#g18" x="0.13"/>
<text id="g19" transform="translate(733.41 275.50) scale(0.5124 1)" font-size="41.88" font-weight="bold" fill="#3765B0" stroke="#3765B0" stroke-width="1.00" stroke-linejoin="miter" stroke-miterlimit="3">E</text>
<use href="#g19" x="1.58"/>
<use href="#g19" x="3.17"/>
<text transform="translate(755.39 275.05) scale(0.8080 1)" font-size="40.58" font-weight="bold" fill="#3765B0" stroke="#3765B0" stroke-width="1.90" stroke-linejoin="miter" stroke-miterlimit="3">S</text>
<text id="g20" transform="translate(778.30 275.50) scale(0.7054 1)" font-size="41.88" font-weight="bold" fill="#3765B0" stroke="#3765B0" stroke-width="1.00" stroke-linejoin="miter" stroke-miterlimit="3">T</text>
<use href="#g20" x="1.87"/>
<text transform="translate(800.54 275.50) scale(0.9401 1)" font-size="41.88" font-weight="bold" fill="#3765B0" stroke="#3765B0" stroke-width="1.00" stroke-linejoin="miter" stroke-miterlimit="3">I</text>
<text transform="translate(813.57 275.50) scale(1.0914 1)" font-size="41.88" font-weight="bold" fill="#3765B0" stroke="#3765B0" stroke-width="1.00" stroke-linejoin="miter" stroke-miterlimit="3">O</text>
<text transform="translate(849.51 275.50) scale(1.1500 1)" font-size="41.88" font-weight="bold" fill="#3765B0" stroke="#3765B0" stroke-width="1.00" stroke-linejoin="miter" stroke-miterlimit="3">N</text>
<text transform="translate(884.92 275.50) scale(1.0533 1)" font-size="41.88" font-weight="bold" fill="#3765B0" stroke="#3765B0" stroke-width="1.00" stroke-linejoin="miter" stroke-miterlimit="3">A</text>
<text id="g21" transform="translate(917.07 275.50) scale(0.9652 1)" font-size="41.88" font-weight="bold" fill="#3765B0" stroke="#3765B0" stroke-width="1.00" stroke-linejoin="miter" stroke-miterlimit="3">D</text>
<use href="#g21" x="0.13"/>
<text transform="translate(947.46 275.50) scale(1.0983 1)" font-size="41.88" font-weight="bold" fill="#3765B0" stroke="#3765B0" stroke-width="1.00" stroke-linejoin="miter" stroke-miterlimit="3">O</text>
<text transform="translate(985.01 275.05) scale(0.7837 1)" font-size="40.58" font-weight="bold" fill="#3765B0" stroke="#3765B0" stroke-width="1.90" stroke-linejoin="miter" stroke-miterlimit="3">S</text>
<text id="g22" transform="translate(39.19 317.30) scale(0.8873 1)" font-size="41.59" font-weight="bold" fill="#3765B0" stroke="#3765B0" stroke-width="1.00" stroke-linejoin="miter" stroke-miterlimit="3">P</text>
<use href="#g22" x="0.70"/>
<text transform="translate(64.04 317.30) scale(1.1197 1)" font-size="41.59" font-weight="bold" fill="#3765B0" stroke="#3765B0" stroke-width="1.00" stroke-linejoin="miter" stroke-miterlimit="3">O</text>
<text id="g23" transform="translate(101.79 317.30) scale(0.8047 1)" font-size="41.59" font-weight="bold" fill="#3765B0" stroke="#3765B0" stroke-width="1.00" stroke-linejoin="miter" stroke-miterlimit="3">R</text>
<use href="#g23" x="1.24"/>
<text transform="translate(140.82 317.30) scale(1.0571 1)" font-size="41.59" font-weight="bold" fill="#3765B0" stroke="#3765B0" stroke-width="1.00" stroke-linejoin="miter" stroke-miterlimit="3">A</text>
<text transform="translate(173.72 317.30) scale(1.1540 1)" font-size="41.59" font-weight="bold" fill="#3765B0" stroke="#3765B0" stroke-width="1.00" stroke-linejoin="miter" stroke-miterlimit="3">Ñ</text>
<text transform="translate(208.14 317.30) scale(1.1197 1)" font-size="41.59" font-weight="bold" fill="#3765B0" stroke="#3765B0" stroke-width="1.00" stroke-linejoin="miter" stroke-miterlimit="3">O</text>
<text transform="translate(36.63 365.40) scale(1.0002 1)" font-size="23.33" fill="#2B2728">En 2024, varios</text>
<text transform="translate(37.78 393.35) scale(0.9546 1)" font-size="23.33" fill="#2B2728">factores contribuyeron</text>
<text transform="translate(37.20 420.70) scale(0.9311 1)" font-size="23.33" fill="#2B2728">menos informes</text>
<text transform="translate(37.11 448.05) scale(0.9564 1)" font-size="23.33" fill="#2B2728">de intentos de</text>
<text transform="translate(37.11 475.40) scale(0.9540 1)" font-size="23.33" fill="#2B2728">censura, como la</text>
<text transform="translate(37.14 502.75) scale(0.9713 1)" font-size="23.33" fill="#2B2728">presión legislativa,</text>
<text transform="translate(37.10 530.10) scale(1.0004 1)" font-size="23.33" fill="#2B2728">la intimidación</text>
<text transform="translate(37.09 557.45) scale(0.9735 1)" font-size="23.33" fill="#2B2728">del personal de</text>
<text transform="translate(37.09 584.80) scale(1.0064 1)" font-size="23.33" fill="#2B2728">biblioteca, la fatiga</text>
<text transform="translate(38.00 611.55) scale(0.9519 1)" font-size="23.33" fill="#2B2728">y el desgaste.</text>
<text transform="translate(293.96 317.90) scale(0.9682 1)" font-size="22.71" fill="#ECD5C6">4,000</text>
<text transform="translate(293.69 471.90) scale(0.9730 1)" font-size="22.71" fill="#ECD5C6">2,000</text>
<text transform="translate(269.50 567.50) scale(1.1002 1)" font-size="27.29" font-weight="bold" fill="#6F4199" stroke="#6F4199" stroke-width="0.80" stroke-linejoin="miter" stroke-miterlimit="3">390</text>
<text transform="translate(273.47 589.00) scale(0.9973 1)" font-size="18.71" fill="#4A4A4C">2004</text>
<text transform="translate(627.78 582.90) scale(1.0819 1)" font-size="26.57" font-weight="bold" fill="#45B44C" stroke="#45B44C" stroke-width="0.80" stroke-linejoin="miter" stroke-miterlimit="3">183</text>
<text transform="translate(631.53 604.90) scale(0.9396 1)" font-size="18.43" fill="#4A4A4C">2014</text>
<text transform="translate(799.45 512.80) scale(1.0996 1)" font-size="26.57" font-weight="bold" fill="#F06727" stroke="#F06727" stroke-width="0.80" stroke-linejoin="miter" stroke-miterlimit="3">1,858</text>
<text transform="translate(814.76 535.00) scale(0.9198 1)" font-size="18.29" fill="#4A4A4C">2021</text>
<text transform="translate(838.16 437.70) scale(1.0758 1)" font-size="26.14" font-weight="bold" fill="#E184B7" stroke="#E184B7" stroke-width="0.80" stroke-linejoin="miter" stroke-miterlimit="3">2,571</text>
<text transform="translate(855.29 460.00) scale(0.9969 1)" font-size="18.29" fill="#4A4A4C">2022</text>
<text transform="translate(861.90 320.70) scale(1.1586 1)" font-size="26.14" font-weight="bold" fill="#ED302F" stroke="#ED302F" stroke-width="0.80" stroke-linejoin="miter" stroke-miterlimit="3">4,240</text>
<text transform="translate(879.30 342.80) scale(0.9976 1)" font-size="18.00" fill="#4A4A4C">2023</text>
<text transform="translate(1027.10 444.70) scale(1.1493 1)" font-size="26.14" font-weight="bold" fill="#6F4199" stroke="#6F4199" stroke-width="0.80" stroke-linejoin="miter" stroke-miterlimit="3">2,452</text>
<text transform="translate(1044.29 466.80) scale(0.9978 1)" font-size="18.29" fill="#4A4A4C">2024</text>
<text transform="translate(433.76 715.20) scale(0.9674 1)" font-size="27.97" font-weight="bold" fill="#FEF4E9" stroke="#FEF4E9" stroke-width="0.60" stroke-linejoin="miter" stroke-miterlimit="3">A</text>
<text id="g24" transform="translate(455.45 715.20) scale(0.6281 1)" font-size="27.97" font-weight="bold" fill="#FEF4E9" stroke="#FEF4E9" stroke-width="0.60" stroke-linejoin="miter" stroke-miterlimit="3">L</text>
<use href="#g24" x="1.49"/>
<text id="g25" transform="translate(469.17 715.20) scale(0.9419 1)" font-size="27.97" font-weight="bold" fill="#FEF4E9" stroke="#FEF4E9" stroke-width="0.60" stroke-linejoin="miter" stroke-miterlimit="3">A</text>
<use href="#g25" x="0.08"/>
<text transform="translate(488.58 715.20) scale(1.0000 1)" font-size="38.67" font-weight="bold" fill="#FEF4E9" stroke="#FEF4E9" stroke-width="0.60" stroke-linejoin="miter" stroke-miterlimit="3">.</text>
<text transform="translate(497.89 715.20) scale(1.0828 1)" font-size="27.97" font-weight="bold" fill="#FEF4E9" stroke="#FEF4E9" stroke-width="0.60" stroke-linejoin="miter" stroke-miterlimit="3">O</text>
<text id="g26" transform="translate(523.16 715.20) scale(0.6785 1)" font-size="27.97" font-weight="bold" fill="#FEF4E9" stroke="#FEF4E9" stroke-width="0.60" stroke-linejoin="miter" stroke-miterlimit="3">R</text>
<use href="#g26" x="1.26"/>
<text transform="translate(538.99 715.00) scale(1.0147 1)" font-size="27.39" font-weight="bold" fill="#FEF4E9" stroke="#FEF4E9" stroke-width="1.00" stroke-linejoin="miter" stroke-miterlimit="3">G</text>
<text id="g27" transform="translate(575.05 715.20) scale(0.6839 1)" font-size="27.97" font-weight="bold" fill="#FEF4E9" stroke="#FEF4E9" stroke-width="0.60" stroke-linejoin="miter" stroke-miterlimit="3">B</text>
<use href="#g27" x="1.24"/>
<text id="g28" transform="translate(592.11 715.20) scale(0.7073 1)" font-size="27.97" font-weight="bold" fill="#FEF4E9" stroke="#FEF4E9" stroke-width="0.60" stroke-linejoin="miter" stroke-miterlimit="3">B</text>
<use href="#g28" x="1.13"/>
<text transform="translate(609.48 715.20) scale(1.0930 1)" font-size="27.97" font-weight="bold" fill="#FEF4E9" stroke="#FEF4E9" stroke-width="0.60" stroke-linejoin="miter" stroke-miterlimit="3">O</text>
<text transform="translate(635.58 715.20) scale(1.0930 1)" font-size="27.97" font-weight="bold" fill="#FEF4E9" stroke="#FEF4E9" stroke-width="0.60" stroke-linejoin="miter" stroke-miterlimit="3">O</text>
<text id="g29" transform="translate(661.17 715.20) scale(0.6721 1)" font-size="27.97" font-weight="bold" fill="#FEF4E9" stroke="#FEF4E9" stroke-width="0.60" stroke-linejoin="miter" stroke-miterlimit="3">K</text>
<use href="#g29" x="1.29"/>
<text transform="translate(677.83 714.90) scale(0.6775 1)" font-size="27.10" font-weight="bold" fill="#FEF4E9" stroke="#FEF4E9" stroke-width="1.20" stroke-linejoin="miter" stroke-miterlimit="3">S</text>
<text transform="translate(560.90 716.70) scale(1.2979 1)" font-size="31.37" fill="#FEF4E9" stroke="#FEF4E9" stroke-width="1.40" stroke-linejoin="miter" stroke-miterlimit="3">/</text>
<text transform="translate(1071.68 723.00) scale(0.8270 1)" font-size="14.49" fill="#FFFFFF">©ALA</text>
</svg></body></html>
